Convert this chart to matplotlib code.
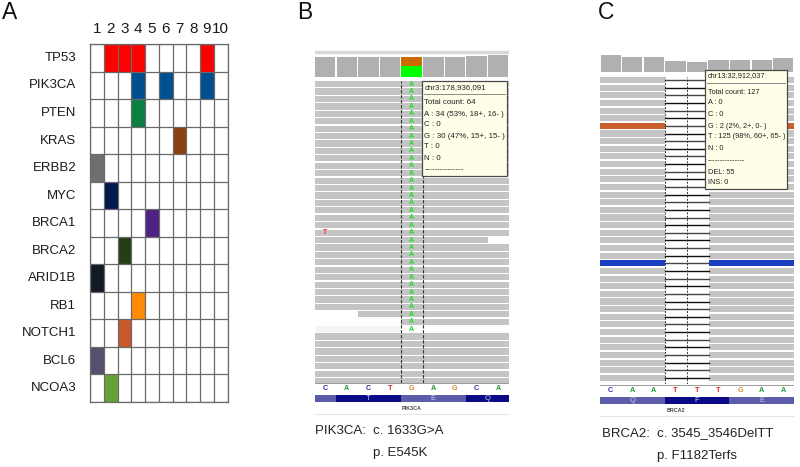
import matplotlib
matplotlib.use("Agg")
import matplotlib.pyplot as plt
import numpy as np
from matplotlib.colors import ListedColormap
from matplotlib.patches import Rectangle

plt.rcParams["font.family"] = ["Liberation Sans", "DejaVu Sans"]

W, H = 800, 467

# panel A
genes = ["TP53", "PIK3CA", "PTEN", "KRAS", "ERBB2", "MYC", "BRCA1", "BRCA2",
         "ARID1B", "RB1", "NOTCH1", "BCL6", "NCOA3"]
samples = ["1", "2", "3", "4", "5", "6", "7", "8", "9", "10"]
hits = [[2, 3, 4, 9], [4, 6, 9], [4], [7], [1], [2], [5], [3], [1], [4], [3], [1], [2]]
gene_colors = ["#fe0000", "#004f91", "#0b7f41", "#8a4010", "#6f6f6f", "#001a4e", "#4f2183",
               "#263e16", "#141a25", "#ff8b00", "#c8592a", "#54506e", "#65a137"]

# panel B
b_bases = list("CACTGAGCA")
b_coverage = [64, 64, 64, 64, 0, 64, 64, 66, 70]
b_alt_a = 34
b_alt_g = 30
b_amino = [("", 0, 1, 1), ("T", 1, 4, 0), ("E", 4, 7, 1), ("Q", 7, 9, 0)]
b_starts = {31: 2, 32: 4, 33: 9}
b_ends = {21: 8.05}
b_alt_rows = 34
b_tip = ["chr3:178,936,091", "Total count: 64", "A : 34 (53%, 18+, 16- )", "C : 0",
         "G : 30 (47%, 15+, 15- )", "T : 0", "N : 0", "---------------"]
b_tip_y = [88, 103, 114, 125, 136, 147, 159, 170]

# panel C
c_bases = list("CAATTTGAA")
c_coverage = [210, 195, 195, 145, 127, 150, 150, 150, 175]
c_amino = [("Q", 0, 3, 1), ("F", 3, 6, 0), ("E", 6, 9, 1)]
c_colored = {6: "#c8602c", 24: "#1a3ec0"}
c_tip = ["chr13:32,912,037", "Total count: 127", "A : 0", "C : 0", "G : 2 (2%, 2+, 0- )",
         "T : 125 (98%, 60+, 65- )", "N : 0", "---------------", "DEL: 55", "INS: 0"]
c_tip_y = [76, 92, 103, 114, 126, 137, 149, 161, 172, 183]

base_colors = {"A": "#1f9a35", "C": "#2c2cb4", "G": "#d48a30", "T": "#d42020"}
read_gray = "#c4c4c4"
cov_gray = "#b0b0b0"


def pixel_axes(left, top, right, bottom, **kw):
    ax = fig.add_axes([left / W, 1 - bottom / H, (right - left) / W, (bottom - top) / H], **kw)
    return ax


def blank(ax):
    ax.set_xticks([])
    ax.set_yticks([])
    for s in ax.spines.values():
        s.set_visible(False)


def seq_track(left, right, top, line_y, bases, amino, gene, gene_x):
    # reference line, base letters, amino acid bar and gene name
    ax = pixel_axes(left, top, right, top + 34)
    ax.set_xlim(0, 9)
    ax.set_ylim(34, 0)
    blank(ax)
    ax.patch.set_alpha(0)
    ax.axhline(0.7, color="#808080", lw=1.1)
    for i, b in enumerate(bases):
        ax.text(i + 0.5, 6.3, b, color=base_colors[b], fontsize=5.2, fontweight="bold",
                ha="center", va="center")
    for name, a, b, light in amino:
        ax.barh(line_y, b - a, left=a, height=7.4, color="#5c5cab" if light else "#0a0a86")
        ax.text((a + b) / 2, line_y, name, color="#c9c9e6", fontsize=5.5, ha="center", va="center")
    ax.text(gene_x, 26.5, gene, color="#444444", fontsize=3.9, fontweight="bold", ha="center", va="center")
    ax.axhline(31.5, color="#e4e4e4", lw=0.8)


def tooltip(ax, left, top, right, bottom, lines, ys, sep_y, size):
    ax.add_patch(Rectangle((left, top), right - left, bottom - top, fc="#fffee8", ec="#4a4a4a", lw=0.9))
    ax.plot([left + 2, right - 2], [sep_y, sep_y], color="#8a8a8a", lw=0.7)
    for s, y in zip(lines, ys):
        ax.text(left + 2.5, y, s, fontsize=size, color="#222222", va="center", ha="left")


fig = plt.figure(figsize=(8, 4.67), dpi=100)

# A: mutation grid
ax_a = pixel_axes(90, 44, 227.5, 402)
cells = np.full((len(genes), len(samples)), np.nan)
for g, cols in enumerate(hits):
    for c in cols:
        cells[g, c - 1] = g
ax_a.pcolormesh(np.ma.masked_invalid(cells), cmap=ListedColormap(gene_colors), vmin=0,
                vmax=len(genes) - 1, edgecolors="none")
ax_a.set_xlim(0, len(samples))
ax_a.set_ylim(len(genes), 0)
ax_a.set_xticks(np.arange(len(samples)) + 0.5, samples)
ax_a.set_yticks(np.arange(len(genes)) + 0.45, genes)
ax_a.xaxis.tick_top()
ax_a.tick_params(length=0, labelsize=9.5, colors="#1a1a1a")
ax_a.tick_params(axis="x", labelsize=11, pad=6)
ax_a.tick_params(axis="y", pad=10)
ax_a.set_xticks(np.arange(len(samples) + 1), minor=True)
ax_a.set_yticks(np.arange(len(genes) + 1), minor=True)
ax_a.tick_params(which="minor", length=0)
ax_a.grid(which="minor", color="#6a6a6a", lw=0.9)
ax_a.set_axisbelow(False)
for s in ax_a.spines.values():
    s.set_color("#6a6a6a")
    s.set_linewidth(0.9)

# B: coverage
ax = pixel_axes(314.5, 50, 509, 77)
ax.set_xlim(0, 9)
ax.set_ylim(0, 27 / 20 * 64)
blank(ax)
x = np.arange(9) + 0.5
ax.bar(x, b_coverage, width=0.94, color=cov_gray)
ax.bar(x[4], b_alt_a, width=0.96, color="#00ff00")
ax.bar(x[4], b_alt_g, width=0.96, bottom=b_alt_a, color="#cc6a00")
ax.axhline(76, color="#9a9a9a", lw=1.2)
ax.axhline(78.5, color="#d8d8d8", lw=2.5)

# B: reads
ax = pixel_axes(314.5, 81, 509, 382.5)
ax.set_xlim(0, 9)
ax.set_ylim(40.6, 0)
blank(ax)
for r in range(41):
    start = b_starts.get(r, 0)
    end = b_ends.get(r, 9)
    ax.barh(r + 0.42, end - start, left=start, height=0.84, color=read_gray)
ax.barh(33 + 0.42, 4, left=0, height=0.84, color="#f4f4f4")
for r in range(b_alt_rows):
    ax.text(4.5, r + 0.42, "A", color="#18e018", fontsize=5, fontweight="bold", ha="center", va="center")
ax.text(0.5, 20.45, "T", color="#f03030", fontsize=5, fontweight="bold", ha="center", va="center")
ax.axvline(3.98, color="#333333", lw=0.8, ls=(0, (3, 1.5)))
ax.axvline(5.0, color="#333333", lw=0.8, ls=(0, (3, 1.5)))
seq_track(314.5, 509, 382.5, 16.2, b_bases, b_amino, "PIK3CA", 4.5)

# C: coverage
ax = pixel_axes(600, 50, 794, 72)
ax.set_xlim(0, 9)
ax.set_ylim(0, 22 * 12.7)
blank(ax)
ax.bar(x, c_coverage, width=0.94, color=cov_gray)

# C: reads, two deleted bases in the middle
ax = pixel_axes(600, 77, 794, 384)
ax.set_xlim(0, 9)
ax.set_ylim(40.2, 0)
blank(ax)
for r in range(40):
    col = c_colored.get(r, read_gray)
    ax.barh(r + 0.4, 3, left=0, height=0.8, color=col)
    ax.barh(r + 0.4, 4, left=5.05, height=0.8, color=col)
    ax.plot([3, 5.05], [r + 0.4, r + 0.4], color="#111111" if r % 2 else "#444444", lw=1.0)
ax.axvline(3, color="#333333", lw=0.7, ls=(0, (2, 1.5)))
ax.axvline(4.05, color="#333333", lw=0.7, ls=(0, (2, 1.5)))
seq_track(600, 794, 384.5, 15.7, c_bases, c_amino, "BRCA2", 3.5)

# overlay for tooltips and captions, in pixels
top = pixel_axes(0, 0, W, H, zorder=5)
top.set_xlim(0, W)
top.set_ylim(H, 0)
top.axis("off")
tooltip(top, 422, 81, 507, 175.5, b_tip, b_tip_y, 94, 5.7)
tooltip(top, 705, 70, 787, 189, c_tip, c_tip_y, 83, 5.3)
top.text(2, 12.5, "A", fontsize=16.5, va="center", color="#111111")
top.text(297, 12.5, "B", fontsize=16.5, va="center", color="#111111")
top.text(598, 12.5, "C", fontsize=16.5, va="center", color="#111111")
top.text(315, 431, "PIK3CA:  c. 1633G>A", fontsize=9.5, va="center", color="#222222")
top.text(373, 453, "p. E545K", fontsize=9.5, va="center", color="#222222")
top.text(602, 433, "BRCA2:  c. 3545_3546DelTT", fontsize=9.5, va="center", color="#222222")
top.text(657, 456, "p. F1182Terfs", fontsize=9.5, va="center", color="#222222")

fig.savefig("out.png", dpi=100)
